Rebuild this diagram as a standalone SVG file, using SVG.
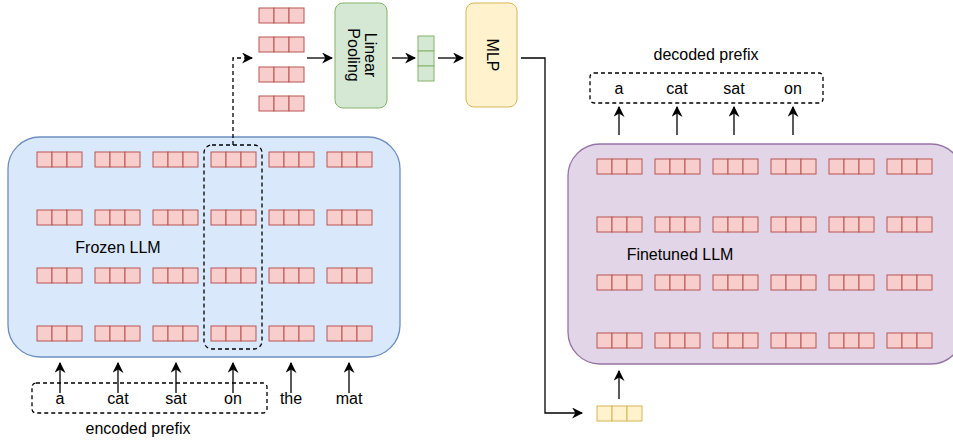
<svg xmlns="http://www.w3.org/2000/svg" width="953" height="441" viewBox="0 0 953 441">
<defs>
<style>
text{font-family:"Liberation Sans",Arial,sans-serif;font-size:16px;fill:#000}
.c{fill:#f8cecc;stroke:#b85450;stroke-width:1}
.y{fill:#fff2cc;stroke:#d6b656;stroke-width:1}
.g{fill:#d5e8d4;stroke:#82b366;stroke-width:1}
.ln{fill:none;stroke:#000;stroke-width:1.3}
.dash{fill:none;stroke:#000;stroke-width:1.3;stroke-dasharray:4 3}
</style>
<marker id="ah" viewBox="0 0 10 10" refX="9" refY="5" markerWidth="11" markerHeight="11" markerUnits="userSpaceOnUse" orient="auto">
<path d="M0,0 L10,5 L0,10 L3,5 Z" fill="#000"/>
</marker>
<g id="tok">
<rect class="c" x="0" y="0" width="15" height="15"/>
<rect class="c" x="15" y="0" width="15" height="15"/>
<rect class="c" x="30" y="0" width="15" height="15"/>
</g>
<g id="row6">
<use href="#tok" x="0"/><use href="#tok" x="58"/><use href="#tok" x="116"/>
<use href="#tok" x="174"/><use href="#tok" x="232"/><use href="#tok" x="290"/>
</g>
</defs>

<g id="frozen-llm">
<rect x="8" y="137" width="392" height="220" rx="32" ry="32" fill="#dae8fc" stroke="#6c8ebf" stroke-width="1.3"/>
<use href="#row6" x="37" y="152"/>
<use href="#row6" x="37" y="210"/>
<use href="#row6" x="37" y="268"/>
<use href="#row6" x="37" y="326"/>
<text x="118" y="253" text-anchor="middle">Frozen LLM</text>
</g>

<g id="selected-column">
<rect class="dash" x="204" y="145" width="58" height="204" rx="8" ry="8"/>
</g>

<g id="pooled-inputs">
<use href="#tok" x="259" y="8"/>
<use href="#tok" x="259" y="37"/>
<use href="#tok" x="259" y="67"/>
<use href="#tok" x="259" y="96"/>
</g>

<g id="linear-pooling">
<rect class="g" x="335" y="3" width="52" height="105" rx="8" ry="8"/>
<text transform="translate(361,55) rotate(90)" text-anchor="middle" x="0" y="-4">Linear</text>
<text transform="translate(361,55) rotate(90)" text-anchor="middle" x="0" y="13">Pooling</text>
</g>

<g id="pooled-vector">
<rect class="g" x="418" y="36" width="16" height="15"/>
<rect class="g" x="418" y="51" width="16" height="15"/>
<rect class="g" x="418" y="66" width="16" height="15"/>
</g>

<g id="mlp">
<rect class="y" x="466" y="3" width="51" height="104" rx="8" ry="8"/>
<text transform="translate(491.5,55) rotate(90)" text-anchor="middle" x="0" y="5">MLP</text>
</g>

<g id="prefix-vector">
<rect class="y" x="597" y="406" width="15" height="15"/>
<rect class="y" x="612" y="406" width="15" height="15"/>
<rect class="y" x="627" y="406" width="15" height="15"/>
</g>

<g id="finetuned-llm">
<rect x="568" y="144" width="395" height="220" rx="32" ry="32" fill="#e1d5e7" stroke="#9673a6" stroke-width="1.3"/>
<use href="#row6" x="597" y="159"/>
<use href="#row6" x="597" y="217"/>
<use href="#row6" x="597" y="275"/>
<use href="#row6" x="597" y="333"/>
<text x="680" y="260" text-anchor="middle">Finetuned LLM</text>
</g>

<g id="decoded-prefix">
<rect class="dash" x="590" y="73" width="233" height="30" rx="4" ry="4"/>
<text x="619" y="94" text-anchor="middle">a</text>
<text x="677" y="94" text-anchor="middle">cat</text>
<text x="734" y="94" text-anchor="middle">sat</text>
<text x="793" y="94" text-anchor="middle">on</text>
<text x="706" y="60" text-anchor="middle">decoded prefix</text>
</g>

<g id="input-tokens">
<rect class="dash" x="32" y="383" width="235" height="30" rx="4" ry="4"/>
<text x="60" y="404" text-anchor="middle">a</text>
<text x="118" y="404" text-anchor="middle">cat</text>
<text x="176" y="404" text-anchor="middle">sat</text>
<text x="233" y="404" text-anchor="middle">on</text>
<text x="291" y="404" text-anchor="middle">the</text>
<text x="349" y="404" text-anchor="middle">mat</text>
<text x="138" y="434" text-anchor="middle">encoded prefix</text>
</g>

<g id="connectors">
<path class="dash" d="M233,145 V58 H252" marker-end="url(#ah)"/>
<path class="ln" d="M307,58 H332" marker-end="url(#ah)"/>
<path class="ln" d="M392,58 H415" marker-end="url(#ah)"/>
<path class="ln" d="M438,58 H463" marker-end="url(#ah)"/>
<path class="ln" d="M521,58 H545 V413 H582" marker-end="url(#ah)"/>
<path class="ln" d="M619,399 V371" marker-end="url(#ah)"/>
<path class="ln" d="M619,135 V107" marker-end="url(#ah)"/>
<path class="ln" d="M677,135 V107" marker-end="url(#ah)"/>
<path class="ln" d="M734,135 V107" marker-end="url(#ah)"/>
<path class="ln" d="M793,135 V107" marker-end="url(#ah)"/>
<path class="ln" d="M60,393 V363" marker-end="url(#ah)"/>
<path class="ln" d="M118,393 V363" marker-end="url(#ah)"/>
<path class="ln" d="M176,393 V363" marker-end="url(#ah)"/>
<path class="ln" d="M233,393 V363" marker-end="url(#ah)"/>
<path class="ln" d="M291,393 V363" marker-end="url(#ah)"/>
<path class="ln" d="M349,393 V363" marker-end="url(#ah)"/>
</g>
</svg>
